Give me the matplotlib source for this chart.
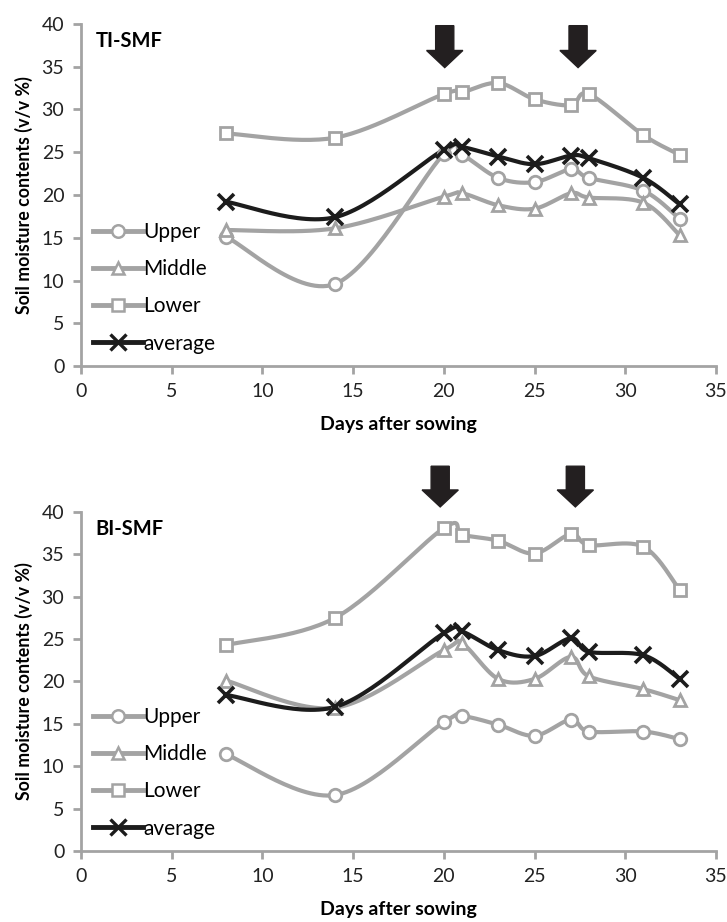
import numpy as np
import matplotlib
matplotlib.use("Agg")
import matplotlib.pyplot as plt

plt.rcParams['font.family'] = ['Lato', 'DejaVu Sans']

######################################
# Data
######################################

days = [8, 14, 20, 21, 23, 25, 27, 28, 31, 33]

ti_upper = [15.1, 9.6, 24.8, 24.7, 22.0, 21.5, 23.0, 22.0, 20.5, 17.2]
ti_middle = [15.9, 16.1, 19.8, 20.2, 18.8, 18.4, 20.2, 19.7, 19.1, 15.3]
ti_lower = [27.2, 26.7, 31.8, 32.0, 33.1, 31.2, 30.5, 31.8, 27.0, 24.7]
ti_average = [19.2, 17.4, 25.3, 25.6, 24.5, 23.6, 24.6, 24.3, 22.0, 18.9]

bi_upper = [11.4, 6.6, 15.2, 15.9, 14.9, 13.6, 15.5, 14.1, 14.1, 13.2]
bi_middle = [20.1, 16.9, 23.7, 24.5, 20.3, 20.3, 22.9, 20.6, 19.1, 17.8]
bi_lower = [24.3, 27.5, 38.1, 37.3, 36.6, 35.1, 37.4, 36.1, 35.9, 30.8]
bi_average = [18.4, 17.0, 25.7, 25.9, 23.7, 23.0, 25.1, 23.5, 23.1, 20.3]

series_labels = ['Upper', 'Middle', 'Lower', 'average']
panel_names = ['TI-SMF', 'BI-SMF']
arrow_days = [[20.05, 27.4], [19.8, 27.25]]

GRAY = '#a3a3a3'
BLACK = '#1c1c1c'


def smooth(x, y, sx=2.12, n=30):
    # Excel-like smoothed line (Catmull-Rom as cubic bezier)
    p = np.column_stack([np.asarray(x, float) * sx, np.asarray(y, float)])
    ext = np.vstack([p[0], p, p[-1]])
    out = []
    t = np.linspace(0, 1, n)[:, None]
    for i in range(len(p) - 1):
        p0, p1, p2, p3 = ext[i], ext[i + 1], ext[i + 2], ext[i + 3]
        c1 = p1 + (p2 - p0) / 6
        c2 = p2 - (p3 - p1) / 6
        seg = ((1 - t) ** 3) * p1 + 3 * ((1 - t) ** 2) * t * c1 + 3 * (1 - t) * t ** 2 * c2 + t ** 3 * p2
        out.append(seg if i == 0 else seg[1:])
    out = np.vstack(out)
    return out[:, 0] / sx, out[:, 1]


def draw_panel(ax, data, name, arrows, arrow_top, arrow_tip, head_len):
    styles = [
        dict(color=GRAY, marker='o', mfc='white', mec=GRAY),
        dict(color=GRAY, marker='^', mfc='white', mec=GRAY),
        dict(color=GRAY, marker='s', mfc='white', mec=GRAY),
        dict(color=BLACK, marker='x', mec=BLACK),
    ]
    handles = []
    for vals, st, lab in zip(data, styles, series_labels):
        sx_, sy_ = smooth(days, vals)
        ax.plot(sx_, sy_, color=st['color'], lw=3.0, solid_capstyle='round', zorder=2)
        ax.plot(days, vals, ls='none', marker=st['marker'], ms=9 if st['marker'] != 'x' else 11,
                mfc=st.get('mfc', 'none'), mec=st['mec'], mew=2.0 if st['marker'] != 'x' else 2.6, zorder=3)
        h, = ax.plot([], [], color=st['color'], lw=3.5, marker=st['marker'],
                     ms=9 if st['marker'] != 'x' else 12,
                     mfc=st.get('mfc', 'none'), mec=st['mec'],
                     mew=1.8 if st['marker'] != 'x' else 2.4, label=lab)
        handles.append(h)

    ax.set_xlim(0, 35)
    ax.set_ylim(0, 40)
    ax.set_xticks(range(0, 36, 5))
    ax.set_yticks(range(0, 41, 5))
    for s in ['top', 'right']:
        ax.spines[s].set_visible(False)
    for s in ['left', 'bottom']:
        ax.spines[s].set_color(GRAY)
        ax.spines[s].set_linewidth(2.0)
    ax.tick_params(direction='out', length=6, width=2, color=GRAY, labelsize=14,
                   labelcolor='#222222', pad=6)
    ax.set_xlabel('Days after sowing', fontsize=14, fontweight='bold', labelpad=12)
    ax.set_ylabel('Soil moisture contents (v/v %)', fontsize=12.8, fontweight='bold', labelpad=6)
    ax.text(0.8, 38.0, name, fontsize=14.5, fontweight='bold', va='center', ha='left')

    ax.legend(handles=handles, loc='lower left', bbox_to_anchor=(0.0, 0.0),
              frameon=False, fontsize=15, handlelength=2.4, handletextpad=0.0,
              labelspacing=0.82, borderaxespad=0.2)

    for xa in arrows:
        ax.arrow(xa, arrow_top, 0, arrow_tip - arrow_top, width=1.0, head_width=2.0,
                 head_length=head_len, length_includes_head=True,
                 fc='#231f20', ec='#231f20', clip_on=False, zorder=5)


fig = plt.figure(figsize=(7.27, 9.22), dpi=100)
ax1 = fig.add_axes([0.1114, 0.603, 0.8734, 0.371])
ax2 = fig.add_axes([0.1114, 0.077, 0.8734, 0.3677])

draw_panel(ax1, [ti_upper, ti_middle, ti_lower, ti_average], panel_names[0], arrow_days[0], 39.8, 34.9, 2.0)
draw_panel(ax2, [bi_upper, bi_middle, bi_lower, bi_average], panel_names[1], arrow_days[1], 45.4, 40.6, 2.0)

fig.savefig('out.png', dpi=100)
